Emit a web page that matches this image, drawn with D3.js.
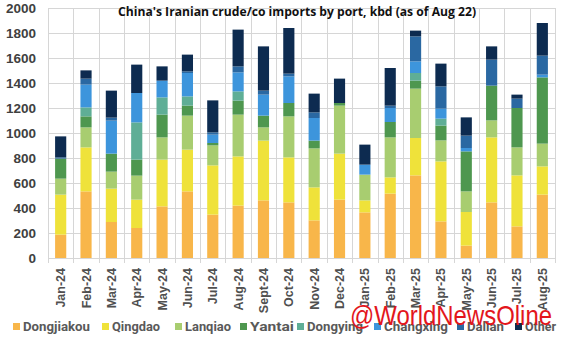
<!DOCTYPE html>
<html>
<head>
<meta charset="utf-8">
<script src="https://cdn.jsdelivr.net/npm/d3@7/dist/d3.min.js"></script>
<style>
  body { margin: 0; background: #fff; }
  svg { display: block; }
</style>
</head>
<body>
<div id="chart"></div>
<script>
var months = ["Jan-24","Feb-24","Mar-24","Apr-24","May-24","Jun-24","Jul-24","Aug-24","Sept-24","Oct-24",
              "Nov-24","Dec-24","Jan-25","Feb-25","Mar-25","Apr-25","May-25","Jun-25","Jul-25","Aug-25"];
var ports = ["Dongjiakou","Qingdao","Lanqiao","Yantai","Dongying","Changxing","Dalian","Other"];
var portColors = ["#f8b64a","#efe23a","#a8cd70","#4e974f","#5fae96","#3d95dc","#2a68a2","#0d2b50"];

// kbd per port, one value per month
var dongjiakou = [187,533,288,240,413,533,347,419,461,445,301,467,365,515,661,293, 99,445,253,507];
var qingdao    = [320,352,267,227,374,334,394,394,478,360,264,368, 96,130,299,480,269,520,408,226];
var lanqiao    = [128,160,136,192,178,272,160,334,106,328,312,384,206,320,395,168,165,136,224,182];
var yantai     = [160, 88,144,128,182, 80, 19,112, 94,107, 62, 21,  0,123, 64,118,320,278,315,530];
var dongying   = [  0, 72,  0,298,138, 74,  0, 74,  0,  0,  0,  0,  0,  0, 61, 56,  0,  0,  0,  0];
var changxing  = [  0,182,264,235,134,187, 67,152,168,213,181,  0, 80,112, 93, 80, 27,  0,  0, 22];
var dalian     = [ 10, 48, 24,  0,  0, 13, 18, 48, 32, 22, 45,  0,  0, 19,200,178, 99,208, 75,152];
var other      = [168, 66,216,227,114,134,256,294,354,365,150,195,160,301, 46,182,146,106, 32,261];
var yTicks = [0,200,400,600,800,1000,1200,1400,1600,1800,2000];

var seriesValues = [dongjiakou, qingdao, lanqiao, yantai, dongying, changxing, dalian, other];
var rows = months.map(function(m, i) {
  var r = { month: m };
  ports.forEach(function(p, k) { r[p] = seriesValues[k][i]; });
  return r;
});

var W = 563, H = 338;
var svg = d3.select("#chart").append("svg").attr("width", W).attr("height", H);

var x = d3.scaleBand().domain(months).range([48, 555]).paddingInner(0.56).paddingOuter(0.28);
var y = d3.scaleLinear().domain([0, 2000]).range([258, 8]);
var color = d3.scaleOrdinal().domain(ports).range(portColors);

// grid
var grid = svg.append("g").attr("stroke", "#d6d6d6").attr("stroke-width", 1);
grid.selectAll("line.h").data(yTicks).join("line")
  .attr("x1", 48).attr("x2", 555)
  .attr("y1", d => Math.round(y(d)) + 0.5).attr("y2", d => Math.round(y(d)) + 0.5);
var bounds = [48].concat(months.map(m => x(m) + x.bandwidth() / 2 + x.step() / 2));
grid.selectAll("line.v").data(bounds).join("line")
  .attr("x1", d => Math.round(d) + 0.5).attr("x2", d => Math.round(d) + 0.5)
  .attr("y1", y(2000)).attr("y2", y(0) + 5);

// bars
var stacked = d3.stack().keys(ports)(rows);
svg.append("g").selectAll("g").data(stacked).join("g")
  .attr("fill", d => color(d.key))
  .selectAll("rect").data(d => d).join("rect")
  .attr("x", d => x(d.data.month))
  .attr("width", x.bandwidth())
  .attr("y", d => y(d[1]))
  .attr("height", d => y(d[0]) - y(d[1]));

// y axis
var yAxis = svg.append("g").attr("transform", "translate(36,0)")
  .call(d3.axisLeft(y).tickValues(yTicks).tickFormat(d3.format("d")).tickSize(0).tickPadding(0));
yAxis.select(".domain").remove();
yAxis.selectAll("text")
  .attr("font-family", "Liberation Sans, Arial, sans-serif")
  .attr("font-weight", "bold").attr("font-size", "13.5px").attr("fill", "#404040")
  .attr("dy", "0.36em");

// x axis
var xAxis = svg.append("g").attr("transform", "translate(0,258)")
  .call(d3.axisBottom(x).tickSize(0).tickPadding(0));
xAxis.select(".domain").remove();
xAxis.selectAll("text")
  .attr("font-family", "Liberation Sans, Arial, sans-serif")
  .attr("font-weight", "bold").attr("font-size", "12.5px").attr("fill", "#505050")
  .attr("text-anchor", "end")
  .attr("transform", "translate(4.5,10) rotate(-90)")
  .attr("x", 0).attr("y", 0).attr("dy", 0);

// title
svg.append("text")
  .attr("x", 297).attr("y", 16)
  .attr("text-anchor", "middle")
  .attr("font-family", "Open Sans, Liberation Sans, sans-serif")
  .attr("font-weight", "bold").attr("font-size", "13px").attr("fill", "#111")
  .attr("textLength", 358).attr("lengthAdjust", "spacingAndGlyphs")
  .text("China's Iranian crude/co imports by port, kbd (as of Aug 22)");

// legend
var legendX = [13, 102, 175, 240, 297, 374, 457, 515];
var legendTextW = [67, 48, 46, 44, 56, 64, 37, 31];
var legend = svg.append("g").selectAll("g").data(ports).join("g")
  .attr("transform", (d, i) => "translate(" + legendX[i] + ",0)");
legend.append("rect").attr("x", 0).attr("y", 323).attr("width", 7).attr("height", 7)
  .attr("fill", d => color(d));
legend.append("text").attr("x", 10).attr("y", 331)
  .attr("font-family", "Roboto, Liberation Sans, sans-serif")
  .attr("font-weight", "bold").attr("font-size", "13px").attr("fill", "#595959")
  .attr("textLength", (d, i) => legendTextW[i]).attr("lengthAdjust", "spacingAndGlyphs")
  .text(d => d);

// watermark
svg.append("text")
  .attr("x", 350).attr("y", 325)
  .attr("font-family", "Liberation Sans, Arial, sans-serif")
  .attr("font-size", "28px").attr("fill", "#e3161c")
  .attr("textLength", 202).attr("lengthAdjust", "spacingAndGlyphs")
  .text("@WorldNewsOline");
</script>
</body>
</html>
